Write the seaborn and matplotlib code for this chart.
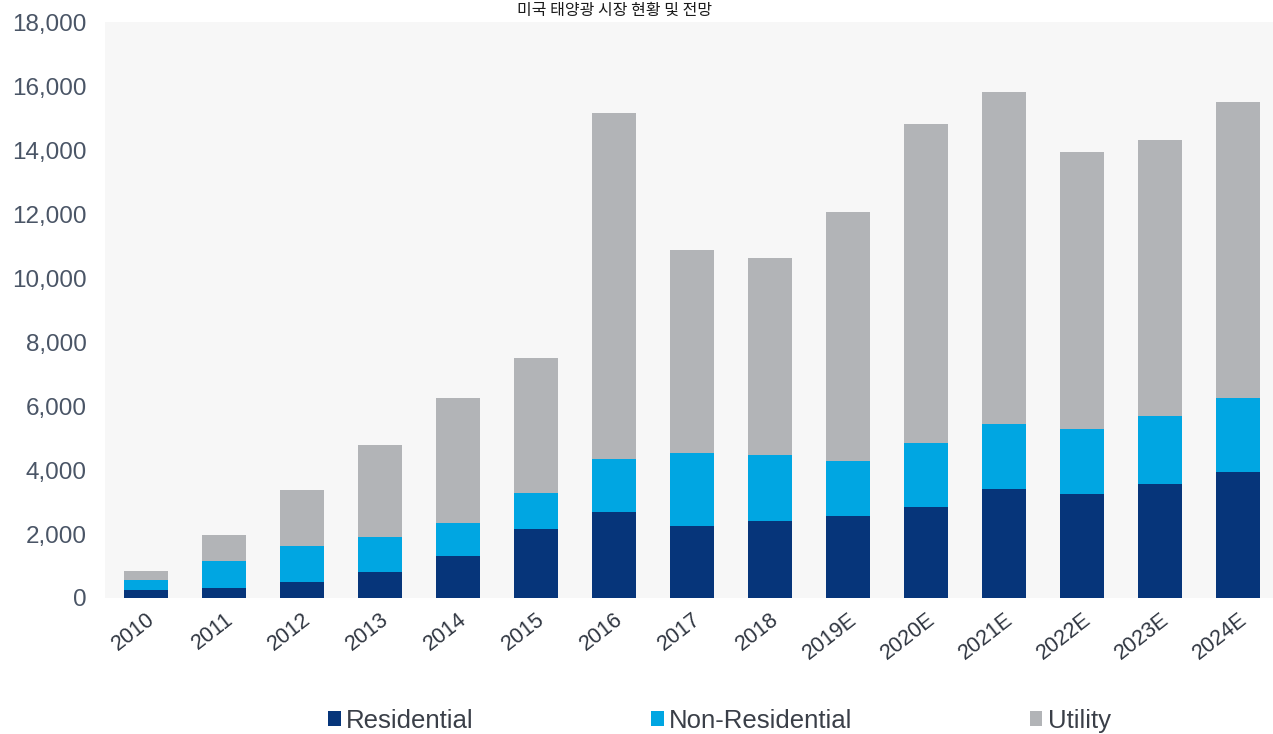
import matplotlib
matplotlib.use("Agg")
import matplotlib.pyplot as plt
from matplotlib.patches import Patch
from matplotlib.ticker import FuncFormatter
import numpy as np
import pandas as pd
import seaborn as sns

# US solar installations by segment (MWdc), actuals and estimates
years = ["2010", "2011", "2012", "2013", "2014", "2015", "2016", "2017",
         "2018", "2019E", "2020E", "2021E", "2022E", "2023E", "2024E"]
residential = [250, 300, 500, 800, 1300, 2150, 2700, 2250,
               2400, 2550, 2850, 3400, 3250, 3550, 3950]
non_residential = [310, 850, 1120, 1100, 1040, 1130, 1640, 2280,
                   2060, 1730, 1990, 2030, 2030, 2130, 2300]
utility = [285, 820, 1750, 2880, 3910, 4220, 10810, 6340,
           6160, 7780, 9960, 10370, 8660, 8630, 9250]
series_names = ["Residential", "Non-Residential", "Utility"]
series_colors = ["#06357a", "#00a6e2", "#b2b4b7"]
title_text = "미국 태양광 시장 현황 및 전망"

df = pd.DataFrame({"year": years, "Residential": residential,
                   "Non-Residential": non_residential, "Utility": utility})
# cumulative tops so each segment sits on the ones below it
df["top_res"] = df["Residential"]
df["top_nonres"] = df["top_res"] + df["Non-Residential"]
df["top_util"] = df["top_nonres"] + df["Utility"]

sns.set_theme(style="white")
plt.rcParams["font.family"] = ["Liberation Sans", "DejaVu Sans"]

fig = plt.figure(figsize=(12.73, 7.34), dpi=100)
ax = fig.add_axes([105 / 1273, 136 / 734, 1168 / 1273, 576 / 734])
ax.set_facecolor("#f7f7f7")

for col, color in zip(["top_util", "top_nonres", "top_res"], series_colors[::-1]):
    sns.barplot(data=df, x="year", y=col, color=color, width=0.56,
                saturation=1, linewidth=0, ax=ax)

ax.set_xlim(-0.526, 14.45)
ax.set_ylim(0, 18000)
ax.set_yticks(np.arange(0, 18001, 2000))
ax.yaxis.set_major_formatter(FuncFormatter(lambda v, p: f"{int(v):,}"))
ax.set_xlabel("")
ax.set_ylabel("")
for s in ax.spines.values():
    s.set_visible(False)
ax.tick_params(axis="y", length=0, pad=13, labelsize=17.5, labelcolor="#4a5566")
ax.tick_params(axis="x", length=0, pad=8, labelsize=15.5, labelcolor="#2f3540")
for lbl in ax.get_xticklabels():
    lbl.set_rotation(38)
    lbl.set_ha("right")
    lbl.set_rotation_mode("anchor")

handles = [Patch(facecolor=c, edgecolor="none") for c in series_colors]
fig.legend(handles, series_names, loc="center", bbox_to_anchor=(0.565, 0.018),
           ncol=3, frameon=False, fontsize=18.5, handlelength=0.5,
           handleheight=0.5, handletextpad=0.2, columnspacing=6.9,
           labelcolor="#3a3f48")

# chart title, kept small so it fits in the strip above the plot area
fig.text(0.483, 1 - 2 / 734, title_text, ha="center", va="top",
         fontsize=11.5, color="#1a1a1a",
         family=["Noto Sans CJK KR", "DejaVu Sans"])

fig.savefig("out.png", dpi=100, facecolor="white")
